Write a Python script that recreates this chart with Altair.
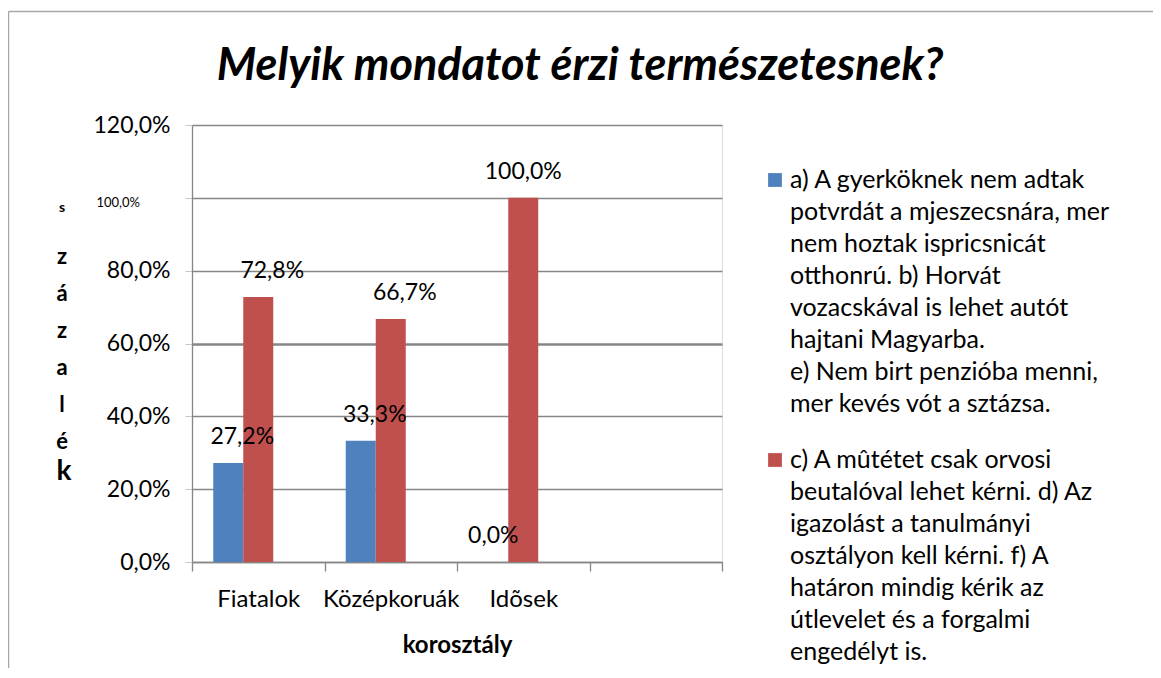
import altair as alt
import pandas as pd

# ---- data ----
title_text = "Melyik mondatot érzi természetesnek?"
categories = ["Fiatalok", "Középkoruák", "Idõsek"]
x_domain = categories + [" "]
series_keys = ["a", "c"]
values_a = [0.272, 0.333, 0.0]
values_c = [0.728, 0.667, 1.0]
y_ticks = [0, 0.2, 0.4, 0.6, 0.8, 1.0, 1.2]
small_tick_value = [1.0]
small_tick_label = ["100,0%"]
colors = ["#4F81BD", "#C0504D"]
x_title = "korosztály"
y_title_first = ["s"]
y_title_middle = ["z", "á", "z", "a", "l", "é"]
y_title_last = ["k"]
legend_a_lines = [
    "a) A gyerköknek nem adtak",
    "potvrdát a mjeszecsnára, mer",
    "nem hoztak ispricsnicát",
    "otthonrú. b) Horvát",
    "vozacskával is lehet autót",
    "hajtani Magyarba.",
    "e) Nem birt penzióba menni,",
    "mer kevés vót a sztázsa.",
]
legend_c_lines = [
    "c) A mûtétet csak orvosi",
    "beutalóval lehet kérni. d) Az",
    "igazolást a tanulmányi",
    "osztályon kell kérni. f) A",
    "határon mindig kérik az",
    "útlevelet és a forgalmi",
    "engedélyt is.",
]

FONT = "Lato"
GRID = "#868686"

rows = []
for i, cat in enumerate(categories):
    rows.append({"cat": cat, "series": series_keys[0], "value": values_a[i]})
    rows.append({"cat": cat, "series": series_keys[1], "value": values_c[i]})
df = pd.DataFrame(rows)
df["label"] = df["value"].map(lambda v: f"{v * 100:.1f}%".replace(".", ","))

x_enc = alt.X(
    "cat:N",
    sort=x_domain,
    scale=alt.Scale(domain=x_domain, paddingInner=0, paddingOuter=0),
    axis=alt.Axis(
        title=x_title,
        labelAngle=0,
        tickBand="extent",
        grid=False,
        tickSize=9,
        tickColor=GRID,
        tickWidth=1.3,
        domainColor=GRID,
        domainWidth=1.3,
        labelFontSize=24,
        labelColor="#000000",
        labelFont=FONT,
        labelPadding=16,
        titleFont=FONT,
        titleFontSize=24,
        titleFontWeight="bold",
        titleColor="#000000",
        titlePadding=22,
    ),
)
xoff_enc = alt.XOffset(
    "series:N",
    scale=alt.Scale(domain=series_keys + ["pad"], paddingInner=0, paddingOuter=0.708),
)
y_enc = alt.Y(
    "value:Q",
    scale=alt.Scale(domain=[0, 1.2], nice=False, zero=True),
    axis=alt.Axis(
        values=y_ticks,
        title=None,
        labelExpr="abs(datum.value - 1) < 0.001 ? '' : replace(format(datum.value, '.1%'), '.', ',')",
        grid=True,
        gridColor=GRID,
        gridWidth={"condition": {"test": "abs(datum.value - 0.6) < 0.001", "value": 2.6}, "value": 1.3},
        tickSize=7,
        tickColor="#c8c8c8",
        domainColor=GRID,
        domainWidth=1.3,
        labelFontSize=23,
        labelFont=FONT,
        labelColor="#000000",
        labelPadding=15,
    ),
)
color_enc = alt.Color(
    "series:N", scale=alt.Scale(domain=series_keys, range=colors), legend=None
)

base = alt.Chart(df)
bars = base.mark_bar().encode(x=x_enc, xOffset=xoff_enc, y=y_enc, color=color_enc)

label_style = dict(font=FONT, fontSize=23, color="#000000", baseline="middle", dy=-26)
labels_shift = (
    base.transform_filter(alt.datum.cat != categories[2])
    .mark_text(dx=14, **label_style)
    .encode(x=x_enc, xOffset=xoff_enc, y=y_enc, text="label:N")
)
labels_plain = (
    base.transform_filter(alt.datum.cat == categories[2])
    .mark_text(dx=0, **label_style)
    .encode(x=x_enc, xOffset=xoff_enc, y=y_enc, text="label:N")
)

# small 100,0% tick label
small_df = pd.DataFrame({"value": small_tick_value, "t": small_tick_label})
small_tick = alt.Chart(small_df).mark_text(
    font=FONT, fontSize=13, align="right", baseline="middle", dy=5, color="#000000"
).encode(x=alt.value(-52), y=alt.Y("value:Q"), text="t:N")

# stacked y-axis title letters
yt1 = alt.Chart(pd.DataFrame({"t": y_title_first})).mark_text(
    font=FONT, fontSize=14, fontWeight="bold", baseline="middle", align="center", color="#000000"
).encode(x=alt.value(-130), y=alt.value(83), text="t:N")
yt2 = alt.Chart(pd.DataFrame({"t": ["\n".join(y_title_middle)]})).mark_text(
    font=FONT, fontSize=22, fontWeight="bold", baseline="middle", align="center",
    lineBreak="\n", lineHeight=37, color="#000000"
).encode(x=alt.value(-130), y=alt.value(132), text="t:N")
yt3 = alt.Chart(pd.DataFrame({"t": y_title_last})).mark_text(
    font=FONT, fontSize=28, fontWeight="bold", baseline="middle", align="center", color="#000000"
).encode(x=alt.value(-128), y=alt.value(347), text="t:N")

# manual legend
def legend_entry(color, lines, y_sym, y_text):
    sq = alt.Chart(pd.DataFrame({"s": [0]})).mark_square(
        size=190, color=color, opacity=1
    ).encode(x=alt.value(583), y=alt.value(y_sym))
    tx = alt.Chart(pd.DataFrame({"t": ["\n".join(lines)]})).mark_text(
        font=FONT, fontSize=25, align="left", baseline="alphabetic",
        lineBreak="\n", lineHeight=32, color="#000000"
    ).encode(x=alt.value(598), y=alt.value(y_text), text="t:N")
    return sq + tx

leg_a = legend_entry(colors[0], legend_a_lines, 55, 63)
leg_c = legend_entry(colors[1], legend_c_lines, 335, 343)

# outer frame lines (left and top)
frame_df = pd.DataFrame({"f": [0]})
frame_left = alt.Chart(frame_df).mark_rule(color="#a6a6a6", strokeWidth=1.5).encode(
    x=alt.value(-183.5), y=alt.value(-113.5), y2=alt.value(560)
)
frame_top = alt.Chart(frame_df).mark_rule(color="#a6a6a6", strokeWidth=1.5).encode(
    x=alt.value(-183.5), x2=alt.value(980), y=alt.value(-113.5)
)

chart = (
    alt.layer(
        bars, labels_shift, labels_plain, small_tick, yt1, yt2, yt3,
        leg_a, leg_c, frame_left, frame_top,
    )
    .properties(
        width=530,
        height=437,
        title=alt.Title(
            title_text,
            font=FONT,
            fontSize=45,
            fontStyle="italic",
            fontWeight="bold",
            color="#000000",
            anchor="middle",
            dx=123,
            baseline="alphabetic",
            offset=-114,
        ),
        autosize=alt.AutoSizeParams(type="none"),
        padding={"left": 184, "top": 117, "right": 431, "bottom": 106},
    )
    .configure_view(stroke=None)
    .configure(background="white")
)

chart.save("out.html", embed_options={"renderer": "svg", "actions": False})
